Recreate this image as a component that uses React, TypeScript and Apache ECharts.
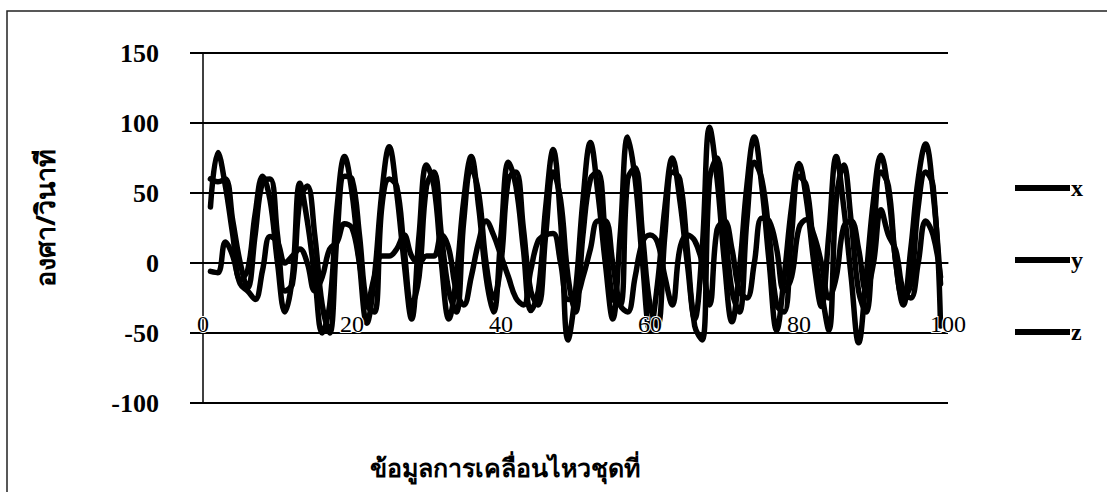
import React, { useEffect, useRef } from "react";
import * as echarts from "echarts";

const xTicks = [0, 20, 40, 60, 80, 100];
const yTicks = [-100, -50, 0, 50, 100, 150];

const seriesX = [
  40, 79, 55, 20, -12, -5, 35, 62, 45, 0,
  -35, -10, 57, 30, -10, -50, -30, 40, 76, 50,
  0, -43, -10, 50, 83, 50, 0, -40, 20, 70,
  55, 0, -40, -10, 45, 76, 40, -10, -35, 20,
  72, 55, 10, -34, -20, 40, 81, 30, -55, -20,
  45, 86, 50, 0, -40, 20, 90, 60, 0, -48,
  -15, 40, 75, 45, 0, -40, 10, 97, 60, 0,
  -42, -5, 55, 90, 55, 0, -48, -10, 40, 71,
  45, 0, -31, 20, 76, 40, -10, -57, -10, 45,
  77, 50, 0, -30, 10, 60, 85, 50, -15,
];

const seriesY = [
  60, 58, 60, 30, 0, -18, 20, 58, 60, 20,
  -20, -15, 45, 55, 20, -30, -50, 20, 62, 60,
  20, -30, -35, 40, 60, 55, 10, -30, -10, 55,
  65, 20, -20, -35, 30, 68, 50, 0, -25, 0,
  60, 65, 25, -20, -30, 20, 65, 45, -10, -35,
  20, 60, 65, 20, -25, -30, 60, 68, 20, -30,
  -45, 20, 65, 60, 10, -45, -55, 60, 75, 30,
  -20, -35, 30, 72, 60, 20, -30, -35, 20, 62,
  55, 10, -20, -48, 45, 70, 30, -20, -35, 20,
  65, 55, 0, -25, -15, 40, 65, 55, -45,
];

const seriesZ = [
  -6, -7, 15, 5, -15, -20, -26, -5, 19, 15,
  0, 5, 10, 0, -20, -10, 10, 15, 28, 25,
  0, -30, -10, 5, 5, 10, 20, 5, 0, 5,
  5, 20, 10, -20, -30, -10, 15, 30, 20, 5,
  -10, -25, -30, -5, 16, 20, 21, 0, -26, -25,
  -10, 10, 30, 30, 0, -30, -35, -10, 15, 20,
  15, -10, -30, 10, 20, 16, 0, -30, 24, 30,
  10, -20, -25, 0, 32, 30, 10, -20, -10, 25,
  31, 20, 0, -25, -10, 26, 30, 10, -20, 0,
  38, 20, 9, -20, -25, 0, 30, 20, -10,
];

const seriesNames = ["x", "y", "z"];
const yTitle = "องศา/วินาที";
const xTitle = "ข้อมูลการเคลื่อนไหวชุดที่";

const toPairs = (arr: number[]) => arr.map((v, i) => [i + 1, v]);

export default function App() {
  const ref = useRef<HTMLDivElement>(null);
  useEffect(() => {
    if (!ref.current) return;
    const chart = echarts.init(ref.current, null, { renderer: "svg" });
    const serif = "'Liberation Serif', 'Times New Roman', serif";
    const thai = "'Noto Sans', 'DejaVu Sans', sans-serif";
    const lineData = [seriesX, seriesY, seriesZ];
    chart.setOption({
      animation: false,
      backgroundColor: "#fff",
      grid: { left: 203, right: 159, top: 53, bottom: 89, containLabel: false },
      xAxis: {
        type: "value",
        position: "bottom",
        offset: -140,
        min: xTicks[0],
        max: xTicks[xTicks.length - 1],
        interval: xTicks[1] - xTicks[0],
        z: 5,
        axisLine: { onZero: false, lineStyle: { color: "#000", width: 1.5 } },
        axisTick: { show: false },
        splitLine: { show: false },
        axisLabel: {
          margin: 49,
          color: "#000",
          fontSize: 24,
          fontFamily: serif,
          textBorderColor: "#fff",
          textBorderWidth: 2,
        },
      },
      yAxis: {
        type: "value",
        min: yTicks[0],
        max: yTicks[yTicks.length - 1],
        interval: yTicks[1] - yTicks[0],
        axisLine: { show: true, onZero: false, lineStyle: { color: "#000", width: 1.5 } },
        axisTick: { show: true, inside: false, length: 13, lineStyle: { color: "#000", width: 2 } },
        splitLine: { show: true, lineStyle: { color: "#000", width: 2 } },
        axisLabel: {
          margin: 44,
          color: "#000",
          fontSize: 26,
          fontWeight: "bold",
          fontFamily: serif,
        },
      },
      legend: {
        orient: "vertical",
        left: 1010,
        top: 171,
        itemWidth: 55,
        itemHeight: 6,
        itemGap: 48,
        icon: "rect",
        data: seriesNames,
        textStyle: {
          color: "#000",
          fontSize: 24,
          lineHeight: 24,
          fontWeight: "bold",
          fontFamily: serif,
          padding: [0, 0, 0, -4],
        },
      },
      graphic: [
        {
          type: "rect",
          shape: { x: 7, y: 11, width: 1110, height: 500 },
          style: { fill: "none", stroke: "#222", lineWidth: 1.5 },
          silent: true,
        },
        {
          type: "text",
          x: 44,
          y: 218,
          rotation: Math.PI / 2,
          style: {
            text: yTitle,
            fill: "#000",
            font: `bold 27px ${thai}`,
            textAlign: "center",
            textVerticalAlign: "middle",
          },
        },
        {
          type: "text",
          x: 505,
          y: 467,
          style: {
            text: xTitle,
            fill: "#000",
            font: `bold 25px ${thai}`,
            textAlign: "center",
            textVerticalAlign: "middle",
          },
        },
      ],
      series: seriesNames.map((name, k) => ({
        name,
        type: "line",
        data: toPairs(lineData[k]),
        smooth: 0.4,
        symbol: "none",
        color: "#000",
        lineStyle: { color: "#000", width: 5.5, join: "round", cap: "round" },
      })),
    });
    return () => chart.dispose();
  }, []);
  return (
    <div
      ref={ref}
      style={{ position: "fixed", left: 0, top: 0, width: 1107, height: 492 }}
    />
  );
}
